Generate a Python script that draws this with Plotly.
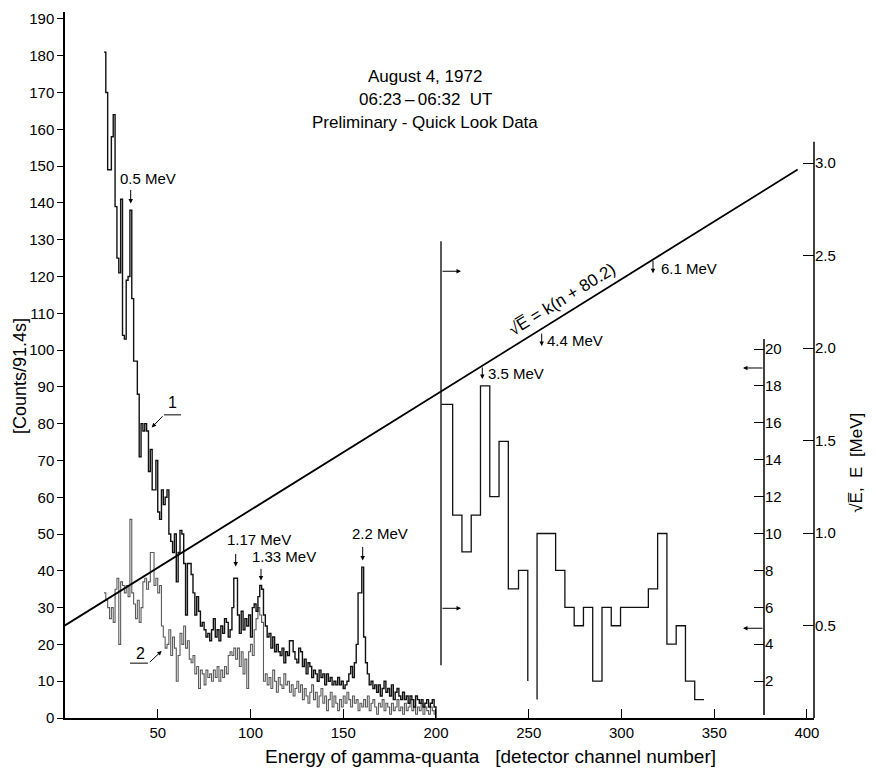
import plotly.graph_objects as go

# ---------------- data ----------------
# curve 1 (heavier line): counts per detector channel, starting at channel 21
curve1_start = 21
curve1_counts = [181, 170, 149, 149, 158, 164, 139, 125, 121, 141,
                 104, 103, 119, 120, 138, 114, 97, 97, 88, 71,
                 80, 78, 80, 78, 67, 73, 62, 62, 70, 56,
                 54, 62, 58, 60, 62, 50, 48, 45, 50, 37,
                 45, 51, 50, 42, 28, 42, 42, 39, 34, 28,
                 33, 29, 25, 26, 24, 22, 23, 21, 24, 27,
                 22, 24, 21, 25, 23, 27, 26, 22, 24, 30,
                 38, 38, 28, 23, 29, 24, 27, 25, 28, 22,
                 30, 31, 29, 33, 36, 35, 28, 25, 22, 23,
                 19, 22, 18, 20, 18, 17, 19, 15, 18, 17,
                 21, 21, 18, 16, 15, 19, 18, 14, 16, 12,
                 15, 14, 11, 13, 12, 10, 13, 11, 12, 9,
                 12, 10, 11, 9, 10, 9, 11, 9, 10, 8,
                 9, 10, 12, 14, 11, 15, 20, 34, 34, 41,
                 22, 15, 12, 9, 10, 8, 9, 7, 9, 6,
                 8, 10, 7, 8, 6, 9, 5, 7, 8, 6,
                 5, 7, 5, 6, 4, 6, 5, 3, 6, 5,
                 4, 5, 3, 4, 5, 3, 4, 5, 3]

# curve 2 (grey line)
curve2_start = 21
curve2_counts = [34, 32, 30, 27, 30, 26, 35, 38, 20, 37,
                 36, 34, 36, 33, 54, 34, 31, 27, 32, 26,
                 30, 37, 38, 35, 37, 45, 45, 36, 38, 34,
                 36, 25, 22, 19, 20, 24, 17, 22, 19, 10,
                 17, 23, 20, 25, 19, 21, 16, 15, 17, 12,
                 14, 8, 13, 12, 9, 13, 11, 12, 10, 13,
                 11, 14, 10, 13, 11, 14, 12, 17, 18, 17,
                 19, 16, 19, 14, 18, 12, 16, 8, 18, 20,
                 17, 24, 27, 30, 28, 26, 10, 12, 9, 11,
                 8, 13, 10, 7, 11, 9, 8, 12, 9, 10,
                 7, 9, 6, 8, 10, 7, 9, 5, 8, 6,
                 4, 7, 9, 5, 7, 3, 6, 8, 4, 6,
                 2, 5, 7, 3, 6, 4, 2, 5, 3, 6,
                 4, 7, 5, 3, 6, 4, 5, 2, 4, 3,
                 5, 3, 6, 2, 4, 5, 3, 1, 4, 3,
                 5, 2, 4, 3, 1, 4, 2, 3, 5, 2,
                 3, 1, 4, 2, 3, 5, 2, 3, 1, 3,
                 2, 4, 1, 3, 2, 1, 3, 2, 1]

# high-energy part (right-hand inner scale), bin edges in channels
hist3a_edges = [203, 209, 214, 219, 224, 229, 234, 239, 244.5, 249.5]
hist3a_values = [17, 11, 9, 11, 18, 12, 15, 7, 8]
hist3a_end = 2
hist3b_edges = [254.5, 259.5, 264.5, 269.5, 274.5, 279.5, 284.5, 289.5, 294.5,
                299.5, 304.5, 309.5, 314.5, 319.5, 324.5, 329.5, 334.5, 339.5, 344.5]
hist3b_values = [10, 10, 8, 6, 5, 6, 2, 6, 5, 6, 6, 6, 7, 10, 4, 5, 2, 1]
hist3b_start = 1

# calibration line sqrt(E) = k (n + 80.2)
calib_k = 0.00624
calib_n0 = 80.2
calib_channels = [0, 395]

x_ticks = [50, 100, 150, 200, 250, 300, 350, 400]
left_ticks = list(range(0, 200, 10))
outer_ticks = [0.5, 1.0, 1.5, 2.0, 2.5, 3.0]
inner_ticks = [2, 4, 6, 8, 10, 12, 14, 16, 18, 20]

# ---------------- layout geometry ----------------
# page body has an 8px margin, so the figure is drawn from (8, 8)
OFF = 8
W, H = 876 - OFF, 773 - OFF
ML, MR, MT, MB = 65 - OFF, 62, 10 - OFF, 55
PW, PH = W - ML - MR, H - MT - MB
X_RANGE = [0, 403.8]
Y_RANGE = [0, PH / 3.6895]
Y2_RANGE = [0, PH / 185.5]
Y3_RANGE = [0, PH / 18.5]


def px(xp):
    return (xp - OFF - ML) / PW


def py(yp):
    return (H - MB - (yp - OFF)) / PH


FONT = "Liberation Sans, Arial, sans-serif"


def steps(start, vals, drop_end=None):
    xs = [start + i for i in range(len(vals))] + [start + len(vals)]
    ys = list(vals) + [vals[-1]]
    if drop_end is not None:
        xs.append(start + len(vals))
        ys.append(drop_end)
    return xs, ys


def steps_edges(edges, vals, start=None, end=None):
    xs, ys = [], []
    if start is not None:
        xs.append(edges[0]); ys.append(start)
    for i, v in enumerate(vals):
        xs += [edges[i], edges[i + 1]]
        ys += [v, v]
    if end is not None:
        xs.append(edges[-1]); ys.append(end)
    return xs, ys


fig = go.Figure()

x2, y2 = steps(curve2_start, curve2_counts)
fig.add_trace(go.Scatter(x=x2, y=y2, mode="lines", line_shape="hv",
                         line=dict(color="#5a5a5a", width=1.1), yaxis="y"))
x1, y1 = steps(curve1_start, curve1_counts, drop_end=0)
fig.add_trace(go.Scatter(x=x1, y=y1, mode="lines", line_shape="hv",
                         line=dict(color="#111111", width=1.4), yaxis="y"))

xa, ya = steps_edges(hist3a_edges, hist3a_values, end=hist3a_end)
fig.add_trace(go.Scatter(x=xa, y=ya, mode="lines",
                         line=dict(color="#111111", width=1.3), yaxis="y3"))
xb, yb = steps_edges(hist3b_edges, hist3b_values, start=hist3b_start)
fig.add_trace(go.Scatter(x=xb, y=yb, mode="lines",
                         line=dict(color="#111111", width=1.3), yaxis="y3"))

fig.add_trace(go.Scatter(x=calib_channels,
                         y=[calib_k * (n + calib_n0) for n in calib_channels],
                         mode="lines", line=dict(color="black", width=1.8),
                         yaxis="y2"))

shapes = []


def seg(x0, y0, x1_, y1_, w=1.3, color="black"):
    shapes.append(dict(type="line", xref="paper", yref="paper",
                       x0=px(x0), y0=py(y0), x1=px(x1_), y1=py(y1_),
                       line=dict(color=color, width=w)))


seg(441, 240, 441, 665)          # left border of high-energy part
seg(764, 338, 764, 715, w=1.5)   # inner right axis
seg(814, 140, 814, 718, w=1.5)   # outer right axis
seg(164, 414, 181, 414, w=1)     # label 1 leader
seg(130, 663, 148, 663, w=1)     # label 2 leader

annotations = []


def arrow(xt, yt, ax, ay, w=1):
    annotations.append(dict(xref="paper", yref="paper", x=px(xt), y=py(yt),
                            ax=ax, ay=ay, text="", showarrow=True,
                            arrowhead=2, arrowsize=0.9, arrowwidth=w,
                            arrowcolor="black", standoff=0, startstandoff=0))


def label(xc, yc, text, size=15, angle=0):
    annotations.append(dict(xref="paper", yref="paper", x=px(xc), y=py(yc),
                            text=text, showarrow=False, textangle=angle,
                            font=dict(family=FONT, size=size, color="black"),
                            xanchor="center", yanchor="middle"))


# title block
label(425, 75, "August 4, 1972", size=17)
label(425, 98, "06:23\u2009\u2013\u200906:32\u00a0\u00a0UT", size=17)
label(425, 121, "Preliminary - Quick Look Data", size=17)

# energy markers
label(148, 177, "0.5 MeV"); arrow(130.7, 202, 0, -15)
label(259, 539, "1.17 MeV"); arrow(235.7, 566, 0, -14)
label(284, 556, "1.33 MeV"); arrow(261, 580, 0, -13)
label(380, 533, "2.2 MeV"); arrow(362.7, 560, 0, -15)
label(516, 373, "3.5 MeV"); arrow(482.3, 378, 0, -13)
label(575, 339, "4.4 MeV"); arrow(541.7, 345, 0, -14)
label(689, 267, "6.1 MeV"); arrow(653, 272, 0, -14)

# scale-indicator arrows
arrow(461, 270, -20, 0)
arrow(461, 608, -20, 0)
arrow(743, 367, 21, 0)
arrow(743, 628, 21, 0)

# curve labels
label(172, 402, "1", size=16); arrow(151.7, 426.7, 12.3, -12.7)
label(140, 653, "2", size=16); arrow(161.7, 650.7, -13.4, 12.6)

# calibration formula
label(562, 298, "\u221aE\u0305 = k(n + 80.2)", size=17, angle=-31.7)

# axis titles
label(20, 375, "[Counts/91.4s]", size=18, angle=-90)
label(857, 462, "\u221aE\u0305,  E  [MeV]", size=17, angle=-90)
label(490, 757, "Energy of gamma-quanta\u00a0\u00a0\u00a0[detector channel number]", size=19)

fig.update_layout(
    width=W, height=H,
    margin=dict(l=ML, r=MR, t=MT, b=MB),
    paper_bgcolor="white", plot_bgcolor="white",
    showlegend=False,
    font=dict(family=FONT, size=14, color="black"),
    shapes=shapes, annotations=annotations,
    xaxis=dict(range=X_RANGE, tickvals=x_ticks, ticks="inside", ticklen=9,
               tickwidth=1.2, tickcolor="black", showline=True, linecolor="black",
               linewidth=1.5, showgrid=False, zeroline=False,
               tickfont=dict(family=FONT, size=15)),
    yaxis=dict(range=Y_RANGE, tickvals=left_ticks, ticks="outside", ticklen=6,
               tickwidth=1.2, tickcolor="black", showline=True, linecolor="black",
               linewidth=1.5, showgrid=False, zeroline=False,
               tickfont=dict(family=FONT, size=15)),
    yaxis2=dict(range=Y2_RANGE, overlaying="y", side="right", anchor="x",
                tickvals=outer_ticks, tickformat=".1f", ticks="inside", ticklen=11,
                tickwidth=1.2, tickcolor="black", showline=False, showgrid=False,
                zeroline=False, tickfont=dict(family=FONT, size=15)),
    yaxis3=dict(range=Y3_RANGE, overlaying="y", side="right", anchor="free",
                position=px(764), tickvals=inner_ticks, ticks="inside", ticklen=10,
                tickwidth=1.2, tickcolor="black", showline=False, showgrid=False,
                zeroline=False, tickfont=dict(family=FONT, size=15)),
)

fig.write_html("out.html")
